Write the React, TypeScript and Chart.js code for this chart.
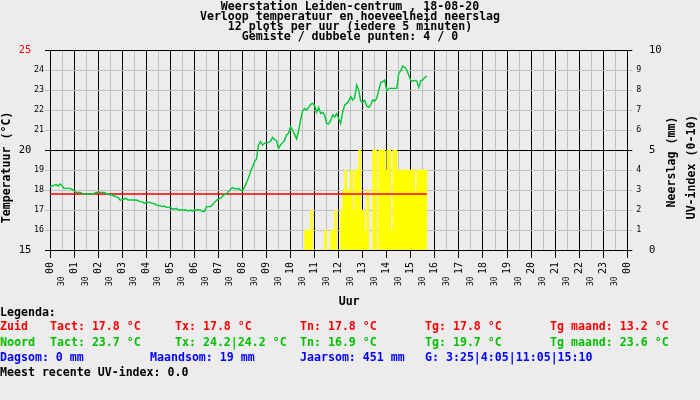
import React, { useEffect, useRef } from "react";
import { Chart, registerables } from "chart.js";

Chart.register(...registerables);

// ---------- data ----------
const titleLines = [
  "Weerstation Leiden-centrum , 18-08-20",
  "Verloop temperatuur en hoeveelheid neerslag",
  "12 plots per uur (iedere 5 minuten)",
  "Gemiste / dubbele punten: 4 / 0",
];

// Noord temperature, one value every 5 minutes starting 00:00
const noordStart = "00:00";
const noordTemp = [
  18.17, 18.2, 18.23, 18.28, 18.2, 18.3, 18.23, 18.08, 18.08, 18.08, 18.08, 18.03,
  17.97, 17.88, 17.88, 17.88, 17.83, 17.8, 17.8, 17.8, 17.8, 17.8, 17.83, 17.88,
  17.88, 17.88, 17.88, 17.88, 17.83, 17.8, 17.75, 17.75, 17.7, 17.67, 17.62, 17.5,
  17.5, 17.55, 17.58, 17.5, 17.5, 17.5, 17.5, 17.5, 17.47, 17.42, 17.42, 17.33,
  17.38, 17.38, 17.38, 17.33, 17.33, 17.25, 17.22, 17.22, 17.17, 17.2, 17.13, 17.13,
  17.13, 17.05, 17.05, 17.08, 17.0, 17.0, 17.0, 17.0, 17.0, 16.95, 17.0, 16.95,
  17.0, 17.0, 17.0, 17.0, 16.92, 16.92, 17.17, 17.17, 17.17, 17.25, 17.37, 17.47,
  17.55, 17.58, 17.67, 17.77, 17.8, 17.92, 18.03, 18.12, 18.08, 18.05, 18.08, 18.0,
  17.97, 18.13, 18.37, 18.6, 18.9, 19.15, 19.4, 19.55, 20.25, 20.42, 20.25, 20.33,
  20.37, 20.37, 20.42, 20.63, 20.53, 20.47, 20.08, 20.25, 20.37, 20.47, 20.75, 20.83,
  21.17, 21.0, 20.78, 20.55, 20.95, 21.5, 21.95, 22.08, 22.0, 22.12, 22.28, 22.33,
  22.22, 21.88, 22.13, 21.83, 21.88, 21.75, 21.33, 21.3, 21.47, 21.75, 21.65, 21.82,
  21.58, 21.33, 21.88, 22.25, 22.33, 22.45, 22.67, 22.5, 22.62, 23.25, 23.0, 22.45,
  22.38, 22.48, 22.2, 22.12, 22.25, 22.5, 22.45, 22.58, 23.0, 23.37, 23.42, 23.5,
  22.95, 23.08, 23.08, 23.08, 23.08, 23.08, 23.83, 23.97, 24.2, 24.13, 24.0, 23.72,
  23.48, 23.45, 23.48, 23.45, 23.12, 23.47, 23.5, 23.62, 23.7,
];

// Zuid temperature (sensor stuck at a constant value)
const zuidTimes = ["00:00", "15:40"];
const zuidTemp = [17.8, 17.8];

// UV-index, one bar every 5 minutes starting 10:35
const uvStart = "10:35";
const uvIndex = [
  1, 1, 1, 2, 0, 0, 0, 0, 0, 0, 1, 0, 0, 1, 1, 2, 0, 0, 2, 3, 4, 3, 3, 4, 2, 4, 4, 5,
  2, 2, 1, 3, 0, 0, 5, 5, 0, 5, 5, 5, 4, 5, 5, 1, 5, 5, 4, 4, 4, 4, 4, 4, 4, 4, 4, 3,
  4, 4, 4, 4, 4,
];

const hourLabels = [
  "00", "01", "02", "03", "04", "05", "06", "07", "08", "09", "10", "11", "12",
  "13", "14", "15", "16", "17", "18", "19", "20", "21", "22", "23", "00",
];
const halfHourLabel = "30";

const legendTitle = "Legenda:";
const zuidRow = ["Zuid", "Tact: 17.8 °C", "Tx: 17.8 °C", "Tn: 17.8 °C", "Tg: 17.8 °C", "Tg maand: 13.2 °C"];
const noordRow = ["Noord", "Tact: 23.7 °C", "Tx: 24.2|24.2 °C", "Tn: 16.9 °C", "Tg: 19.7 °C", "Tg maand: 23.6 °C"];
const rainRow = ["Dagsom: 0 mm", "Maandsom: 19 mm", "Jaarsom: 451 mm", "G: 3:25|4:05|11:05|15:10"];
const uvLine = "Meest recente UV-index: 0.0";

const yTitle = "Temperatuur (°C)";
const y2Titles = ["Neerslag (mm)", "UV-index (0-10)"];
const xTitle = "Uur";

// ---------- layout / style ----------
const FONT = "'DejaVu Sans Mono', monospace";
const BG = "#ececec";
const GRAY = "#c0c0c0";
const GREEN = "#00c832";
const RED = "#ff0000";
const BLUE = "#0000ff";
const YELLOW = "#ffff00";
const SLOTS_PER_HOUR = 12;

const tempCols = [0, 50, 175, 300, 425, 550];
const rainCols = [0, 150, 300, 425];
const rowTops = [306, 320, 335.5, 351, 365.5];

const toHours = (t: string) => {
  const [h, m] = t.split(":").map(Number);
  return h + m / 60;
};

const textStyle: React.CSSProperties = {
  position: "absolute",
  fontFamily: FONT,
  fontWeight: "bold",
  fontSize: "11.6px",
  lineHeight: "13px",
  whiteSpace: "pre",
  margin: 0,
};

export default function App() {
  const ref = useRef<HTMLCanvasElement | null>(null);

  useEffect(() => {
    document.body.style.margin = "0";
    document.body.style.background = BG;
    const canvas = ref.current;
    if (!canvas) return;

    const n0 = toHours(noordStart);
    const u0 = toHours(uvStart);
    const isInt = (v: number) => Math.abs(v - Math.round(v)) < 1e-6;
    const tickVal = (ctx: any) => (ctx && ctx.tick ? Number(ctx.tick.value) : NaN);

    const chart = new Chart(canvas, {
      type: "line",
      data: {
        datasets: [
          {
            type: "line",
            label: "Noord",
            data: noordTemp.map((v, i) => ({ x: n0 + i / SLOTS_PER_HOUR, y: v })),
            borderColor: GREEN,
            borderWidth: 1.4,
            pointRadius: 0,
            tension: 0,
            yAxisID: "y",
          },
          {
            type: "line",
            label: "Zuid",
            data: zuidTimes.map((t, k) => ({ x: toHours(t), y: zuidTemp[k] })),
            borderColor: RED,
            borderWidth: 1.5,
            pointRadius: 0,
            yAxisID: "y",
          },
          {
            type: "bar",
            label: "UV-index",
            data: uvIndex.map((v, k) => ({ x: u0 + (k + 0.5) / SLOTS_PER_HOUR, y: v })),
            backgroundColor: YELLOW,
            borderWidth: 0,
            barPercentage: 1,
            categoryPercentage: 1,
            yAxisID: "y2",
          } as any,
        ],
      },
      options: {
        animation: false,
        responsive: false,
        events: [],
        layout: { padding: 0 },
        plugins: {
          legend: { display: false },
          tooltip: { enabled: false },
          title: {
            display: true,
            text: titleLines,
            color: "#000",
            font: { family: FONT, size: 11.6, weight: "bold", lineHeight: "10px" } as any,
            padding: { top: 2, bottom: 8 },
          },
        },
        scales: {
          x: {
            type: "linear",
            min: 0,
            max: 24,
            offset: false,
            afterFit: (s: any) => {
              s.height = 60;
            },
            ticks: {
              stepSize: 0.5,
              maxTicksLimit: 100,
              autoSkip: false,
              minRotation: 90,
              maxRotation: 90,
              padding: 4,
              color: "#000",
              font: (ctx: any) => {
                const v = tickVal(ctx);
                return isInt(v) || isNaN(v)
                  ? { family: FONT, size: 10 }
                  : { family: FONT, size: 8 };
              },
              callback: (value: any) => {
                const v = Number(value);
                return isInt(v) ? hourLabels[Math.round(v)] : halfHourLabel + "   ";
              },
            },
            grid: {
              offset: false,
              lineWidth: 1,
              tickLength: 8,
              color: (ctx: any) => (isInt(tickVal(ctx)) ? "#000" : GRAY),
              tickColor: (ctx: any) => (isInt(tickVal(ctx)) ? "#000" : "rgba(0,0,0,0)"),
            },
            border: { color: "#000" },
            title: {
              display: true,
              text: "   " + xTitle,
              color: "#000",
              font: { family: FONT, size: 11.6, weight: "bold" },
              padding: { top: 0, bottom: 1 },
            },
          },
          y: {
            type: "linear",
            position: "left",
            min: 15,
            max: 25,
            afterFit: (s: any) => {
              s.width = 50;
            },
            ticks: {
              stepSize: 1,
              padding: 1,
              color: (ctx: any) => (tickVal(ctx) === 25 ? RED : "#000"),
              font: (ctx: any) => {
                const v = tickVal(ctx);
                return v % 5 === 0 ? { family: FONT, size: 10.5 } : { family: FONT, size: 8.3 };
              },
              callback: (value: any) => {
                const v = Number(value);
                return v % 5 === 0 ? `${v}  ` : `${v}`;
              },
            },
            grid: {
              lineWidth: 1,
              tickLength: 5,
              color: (ctx: any) => (tickVal(ctx) % 5 === 0 ? "#000" : GRAY),
              tickColor: (ctx: any) => (tickVal(ctx) % 5 === 0 ? "#000" : GRAY),
            },
            border: { color: "#000" },
            title: {
              display: true,
              text: yTitle + "     ",
              color: "#000",
              font: { family: FONT, size: 11.6, weight: "bold" },
              padding: { top: 0, bottom: 0 },
            },
          },
          y2: {
            type: "linear",
            position: "right",
            min: 0,
            max: 10,
            afterFit: (s: any) => {
              s.width = 72.7;
            },
            ticks: {
              stepSize: 1,
              padding: 4,
              color: "#000",
              font: (ctx: any) => {
                const v = tickVal(ctx);
                return v % 5 === 0 ? { family: FONT, size: 10.5 } : { family: FONT, size: 8.3 };
              },
              callback: (value: any) => {
                const v = Number(value);
                return v % 5 === 0 ? `  ${v}` : `${v}`;
              },
            },
            grid: {
              drawOnChartArea: false,
              lineWidth: 1,
              tickLength: 5,
              color: (ctx: any) => (tickVal(ctx) % 5 === 0 ? "#000" : GRAY),
              tickColor: (ctx: any) => (tickVal(ctx) % 5 === 0 ? "#000" : GRAY),
            },
            border: { color: "#000" },
          },
        },
      } as any,
    });

    return () => chart.destroy();
  }, []);

  return (
    <div style={{ position: "relative", width: 700, height: 400, background: BG, overflow: "hidden" }}>
      <canvas ref={ref} width={700} height={310} style={{ display: "block", position: "absolute", left: 0, top: 0 }} />
      <div
        style={{
          ...textStyle,
          left: 671,
          top: 162,
          transform: "translate(-50%, -50%) rotate(-90deg)",
          color: "#000",
        }}
      >
        {y2Titles[0]}
      </div>
      <div
        style={{
          ...textStyle,
          left: 691,
          top: 167,
          transform: "translate(-50%, -50%) rotate(-90deg)",
          color: "#000",
        }}
      >
        {y2Titles[1]}
      </div>
      <div style={{ ...textStyle, left: 0, top: rowTops[0], color: "#000" }}>{legendTitle}</div>
      {zuidRow.map((t, k) => (
        <div key={"z" + k} style={{ ...textStyle, left: tempCols[k], top: rowTops[1], color: RED }}>
          {t}
        </div>
      ))}
      {noordRow.map((t, k) => (
        <div key={"n" + k} style={{ ...textStyle, left: tempCols[k], top: rowTops[2], color: "#00c000" }}>
          {t}
        </div>
      ))}
      {rainRow.map((t, k) => (
        <div key={"r" + k} style={{ ...textStyle, left: rainCols[k], top: rowTops[3], color: BLUE }}>
          {t}
        </div>
      ))}
      <div style={{ ...textStyle, left: 0, top: rowTops[4], color: "#000" }}>{uvLine}</div>
    </div>
  );
}
